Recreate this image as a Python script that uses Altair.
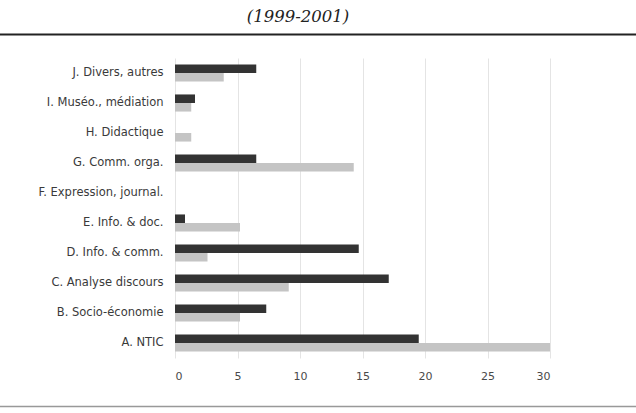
import altair as alt
import pandas as pd

categories = ["J. Divers, autres", "I. Muséo., médiation", "H. Didactique",
              "G. Comm. orga.", "F. Expression, journal.", "E. Info. & doc.",
              "D. Info. & comm.", "C. Analyse discours", "B. Socio-économie", "A. NTIC"]
series_names = ["Série 1", "Série 2"]
dark_values = [6.5, 1.6, 0, 6.5, 0, 0.8, 14.7, 17.1, 7.3, 19.5]
light_values = [3.9, 1.3, 1.3, 14.3, 0, 5.2, 2.6, 9.1, 5.2, 30]
x_ticks = [0, 5, 10, 15, 20, 25, 30]
title_text = "(1999-2001)"

rows = []
for c, d, l in zip(categories, dark_values, light_values):
    rows.append({"categorie": c, "serie": series_names[0], "valeur": d})
    rows.append({"categorie": c, "serie": series_names[1], "valeur": l})
df = pd.DataFrame(rows)

W, H = 375, 300
LEFT, TOP = 175, 58

bars = alt.Chart(df).mark_bar().encode(
    x=alt.X("valeur:Q",
            scale=alt.Scale(domain=[0, 30], nice=False),
            axis=alt.Axis(values=x_ticks, grid=True, gridColor="#e4e4e4", gridWidth=1,
                          domain=False, ticks=False, labelPadding=12,
                          labelFont="DejaVu Sans", labelFontSize=11, labelColor="#4a4a4a",
                          title=None)),
    y=alt.Y("categorie:N", sort=categories,
            scale=alt.Scale(paddingInner=0.43, paddingOuter=0.215),
            axis=alt.Axis(title=None, domain=False, ticks=False, labelPadding=12,
                          labelFont="DejaVu Sans", labelFontSize=11.5, labelColor="#3a3a3a",
                          labelLimit=300, grid=False)),
    yOffset=alt.YOffset("serie:N", sort=series_names,
                        scale=alt.Scale(paddingInner=0, paddingOuter=0)),
    color=alt.Color("serie:N", scale=alt.Scale(domain=series_names,
                                               range=["#333333", "#c4c4c4"]),
                    legend=None),
)

tdf = pd.DataFrame({"t": [title_text]})
title = alt.Chart(tdf).mark_text(
    font="DejaVu Serif", fontStyle="italic", fontSize=16.5, color="#222222",
    baseline="middle", align="center", clip=False
).encode(text="t:N", x=alt.value(298 - LEFT), y=alt.value(17 - TOP))

top_rule = alt.Chart(tdf).mark_rule(color="#222222", strokeWidth=2, clip=False).encode(
    x=alt.value(-LEFT), x2=alt.value(636 - LEFT), y=alt.value(34.5 - TOP))
bottom_rule = alt.Chart(tdf).mark_rule(color="#999999", strokeWidth=1.5, clip=False).encode(
    x=alt.value(-LEFT), x2=alt.value(636 - LEFT), y=alt.value(406.5 - TOP))

chart = alt.layer(bars, title, top_rule, bottom_rule).properties(
    width=W, height=H,
    autosize=alt.AutoSizeParams(type="none"),
    padding={"left": LEFT, "top": TOP, "right": 636 - LEFT - W, "bottom": 413 - TOP - H},
    background="white",
).configure_view(stroke=None)

chart.save("out.html", embed_options={"renderer": "svg", "actions": False})
